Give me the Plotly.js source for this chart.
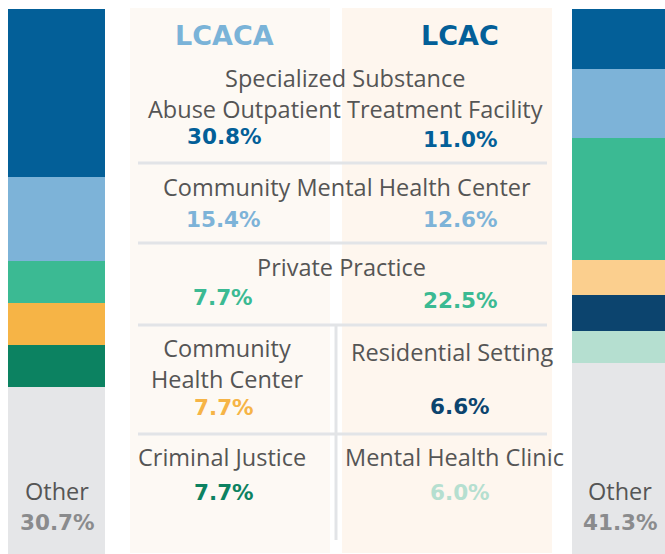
<!DOCTYPE html>
<html>
<head>
<meta charset="utf-8">
<script src="https://cdn.plot.ly/plotly-3.0.1.min.js"></script>
<style>html,body{margin:0;padding:0;background:#fff;}#chart{width:665px;height:554px;}</style>
</head>
<body>
<div id="chart"></div>
<script>
// ---------- data ----------
const groups = ['LCACA', 'LCAC'];

const lcacaCategories = ['Specialized Substance Abuse Outpatient Treatment Facility', 'Community Mental Health Center', 'Private Practice', 'Community Health Center', 'Criminal Justice', 'Other'];
const lcacaValues = [30.8, 15.4, 7.7, 7.7, 7.7, 30.7];

const lcacCategories = ['Specialized Substance Abuse Outpatient Treatment Facility', 'Community Mental Health Center', 'Private Practice', 'Unlabeled setting', 'Residential Setting', 'Mental Health Clinic', 'Other'];
const lcacValues = [11.0, 12.6, 22.5, 6.3, 6.6, 6.0, 41.3];

// ---------- styles ----------
const lcacaColors = ['#035F98', '#7DB3D8', '#3BBA93', '#F6B446', '#0C8261', '#E5E6E8'];
const lcacColors = ['#035F98', '#7DB3D8', '#3BBA93', '#FBCF8E', '#0C446E', '#B5DFD0', '#E5E6E8'];

const W = 665, H = 554;
const px = x => x / W;
const py = y => 1 - y / H;
const FONT = '"Open Sans", Roboto, sans-serif';
const BOLD = '"DejaVu Sans", "Open Sans", sans-serif';
const LABEL = '#555555';
const LS = 23.5, PS = 21.5;
const fmt = v => v.toFixed(1) + '%';

const traces = [];
lcacaCategories.forEach((c, i) => {
  traces.push({type: 'bar', x: [groups[0]], y: [lcacaValues[i]], name: c, xaxis: 'x', yaxis: 'y',
    marker: {color: lcacaColors[i], line: {width: 0}}, width: 1, hoverinfo: 'name+y', showlegend: false});
});
lcacCategories.forEach((c, i) => {
  traces.push({type: 'bar', x: [groups[1]], y: [lcacValues[i]], name: c, xaxis: 'x2', yaxis: 'y',
    marker: {color: lcacColors[i], line: {width: 0}}, width: 1, hoverinfo: 'name+y', showlegend: false});
});

function ann(text, x, y, size, color, bold) {
  return {text: text, xref: 'paper', yref: 'paper', x: px(x), y: py(y), xanchor: 'center', yanchor: 'middle',
    showarrow: false, borderpad: 0, font: {family: bold ? BOLD : FONT, size: size, color: color, weight: bold ? 700 : 400}};
}

const annotations = [
  ann(groups[0], 224, 35, 27, '#7AB3D8', true),
  ann(groups[1], 460, 35, 27, '#035F98', true),
  ann('Specialized Substance<br>Abuse Outpatient Treatment Facility', 345, 93.5, LS, LABEL),
  ann(fmt(lcacaValues[0]), 224, 137, PS, lcacaColors[0], true),
  ann(fmt(lcacValues[0]), 460, 139, PS, lcacColors[0], true),
  ann(lcacaCategories[1], 347, 187, LS, LABEL),
  ann(fmt(lcacaValues[1]), 223, 219, PS, lcacaColors[1], true),
  ann(fmt(lcacValues[1]), 460, 219, PS, lcacColors[1], true),
  ann(lcacaCategories[2], 342, 267, LS, LABEL),
  ann(fmt(lcacaValues[2]), 223, 297, PS, lcacaColors[2], true),
  ann(fmt(lcacValues[2]), 460, 300, PS, lcacColors[2], true),
  ann('Community<br>Health Center', 227, 363, LS, LABEL),
  ann(fmt(lcacaValues[3]), 224, 407, PS, lcacaColors[3], true),
  ann(lcacCategories[4], 452, 352, LS, LABEL),
  ann(fmt(lcacValues[4]), 460, 406, PS, lcacColors[4], true),
  ann(lcacaCategories[4], 222, 457, LS, LABEL),
  ann(fmt(lcacaValues[4]), 224, 492, PS, lcacaColors[4], true),
  ann(lcacCategories[5], 454, 457, LS, LABEL),
  ann(fmt(lcacValues[5]), 460, 492, PS, lcacColors[5], true),
  ann('Other', 57, 491, LS, LABEL),
  ann(fmt(lcacaValues[5]), 57, 522, PS, '#8A8B8D', true),
  ann('Other', 620, 491, LS, LABEL),
  ann(fmt(lcacValues[6]), 620, 522, PS, '#8A8B8D', true)
];

const rule = '#E2E4E7';
function hline(y) {
  return {type: 'line', xref: 'paper', yref: 'paper', x0: px(138), x1: px(547), y0: py(y), y1: py(y),
    line: {color: rule, width: 3}, layer: 'below'};
}
const shapes = [
  {type: 'rect', xref: 'paper', yref: 'paper', x0: px(130), x1: px(330), y0: py(553), y1: py(8),
    fillcolor: '#FDF9F4', line: {width: 0}, layer: 'below'},
  {type: 'rect', xref: 'paper', yref: 'paper', x0: px(342), x1: px(552), y0: py(553), y1: py(8),
    fillcolor: '#FEF6EE', line: {width: 0}, layer: 'below'},
  hline(163), hline(243), hline(325), hline(434),
  {type: 'line', xref: 'paper', yref: 'paper', x0: px(336), x1: px(336), y0: py(325), y1: py(540),
    line: {color: rule, width: 3}, layer: 'below'}
];

const layout = {
  width: W, height: H,
  margin: {l: 0, r: 0, t: 0, b: 0, pad: 0},
  paper_bgcolor: '#ffffff', plot_bgcolor: 'rgba(0,0,0,0)',
  barmode: 'stack', bargap: 0, showlegend: false,
  xaxis: {domain: [px(8), px(105)], range: [-0.5, 0.5], visible: false, fixedrange: true, anchor: 'y'},
  xaxis2: {domain: [px(572), 1], range: [-0.5, 0.5], visible: false, fixedrange: true, anchor: 'y'},
  yaxis: {domain: [0, 1 - 9 / H], range: [100, 0], visible: false, fixedrange: true},
  shapes: shapes,
  annotations: annotations
};

Plotly.newPlot('chart', traces, layout, {displayModeBar: false, staticPlot: true});
</script>
</body>
</html>
